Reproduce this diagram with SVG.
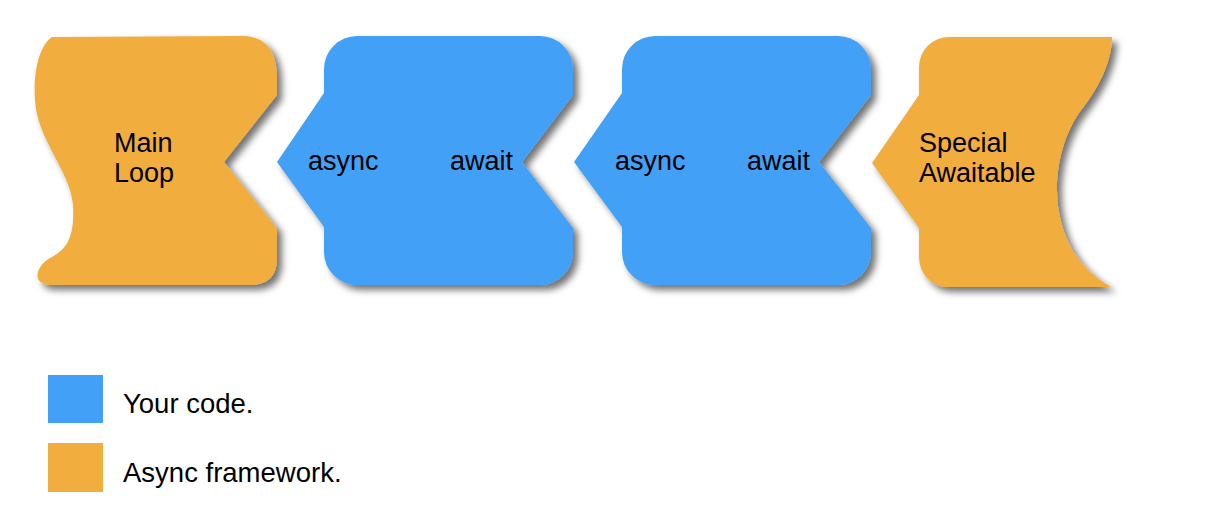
<svg xmlns="http://www.w3.org/2000/svg" width="1220" height="518" viewBox="0 0 1220 518">
<defs>
<filter id="sh" x="-10%" y="-10%" width="130%" height="130%">
<feDropShadow dx="5" dy="5" stdDeviation="3.5" flood-color="#000" flood-opacity="0.55"/>
</filter>
</defs>
<style>
.o{fill:#F1AD3E;filter:url(#sh)}
.b{fill:#42A1F7;filter:url(#sh)}
text{font-family:"Liberation Sans",Arial,sans-serif;font-size:27px;fill:#000}
.l{font-size:27.5px}
</style>
<rect width="1220" height="518" fill="#fff"/>
<g id="main-loop">
<path class="o" d="M52,37 C40,45 33,70 35,100 C37,140 70,170 73,205 C75,240 65,250 50,258 C36,266 30,285 52,285 L250,285 C268,285 277,276 277,258 L277,228 L224,162 L277,95 L277,78 C277,50 265,36 242,36 Z"/>
<text x="114" y="152">Main</text>
<text x="114" y="182">Loop</text>
</g>
<g id="coroutine-1">
<path class="b" d="M357,36 L540,36 A33,33 0 0 1 573,69 L573,95 L522,162 L573,228 L573,252 A33,33 0 0 1 540,285 L357,285 A33,33 0 0 1 324,252 L324,227 L277,162 L324,93 L324,69 A33,33 0 0 1 357,36 Z"/>
<text x="308" y="170">async</text>
<text x="450" y="170">await</text>
</g>
<g id="coroutine-2">
<path class="b" d="M655,36 L838,36 A33,33 0 0 1 871,69 L871,95 L819,162 L871,228 L871,252 A33,33 0 0 1 838,285 L655,285 A33,33 0 0 1 622,252 L622,227 L574,162 L622,93 L622,69 A33,33 0 0 1 655,36 Z"/>
<text x="615" y="170">async</text>
<text x="747" y="170">await</text>
</g>
<g id="special-awaitable">
<path class="o" d="M949,37 L1112,37 C1112,60 1100,85 1085,105 C1060,135 1050,185 1062,225 C1070,255 1090,275 1111,287 L947,287 A28,30 0 0 1 919,257 L919,228 L872,163 L919,95 L919,67 A30,30 0 0 1 949,37 Z"/>
<text x="919" y="152">Special</text>
<text x="919" y="182">Awaitable</text>
</g>
<g id="legend">
<rect x="48" y="375" width="55" height="48" fill="#42A1F7"/>
<text class="l" x="123" y="413">Your code.</text>
<rect x="48" y="443" width="55" height="49" fill="#F1AD3E"/>
<text class="l" x="123" y="482">Async framework.</text>
</g>
<g id="connectors"/>
</svg>
